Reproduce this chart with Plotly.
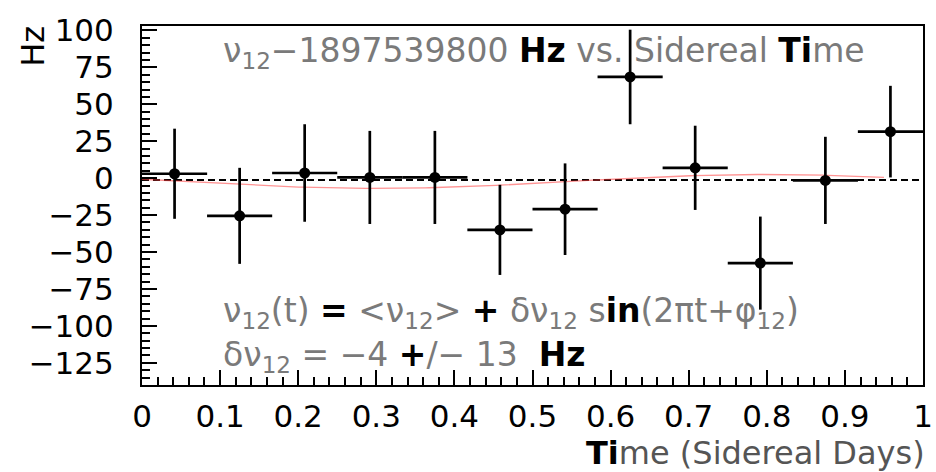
import numpy as np
import plotly.graph_objects as go

# ---- data ----
bin_centers = [0.0417, 0.125, 0.2083, 0.2917, 0.375, 0.4583,
               0.5417, 0.625, 0.7083, 0.7917, 0.875, 0.9583]
bin_half_width = [0.0417] * 12
freq_offset_hz = [3.0, -25.5, 3.5, 0.5, 0.5, -35.0,
                  -21.0, 68.5, 7.0, -57.5, -1.5, 31.5]
freq_err_hz = [30.5, 32.5, 33.0, 31.5, 31.5, 30.5,
               31.0, 32.0, 28.5, 31.5, 29.5, 31.0]

# fit parameters: nu(t) = <nu> + dnu * sin(2 pi t + phi)
fit_mean = -2.2
fit_dnu = -4.7
fit_phi = -0.1 * np.pi
fit_t_range = [0.0, 0.95]
mean_line_hz = -1.3

x_ticks = [0, 0.1, 0.2, 0.3, 0.4, 0.5, 0.6, 0.7, 0.8, 0.9, 1]
x_tick_labels = ["0", "0.1", "0.2", "0.3", "0.4", "0.5", "0.6", "0.7", "0.8", "0.9", "1"]
y_ticks = [-125, -100, -75, -50, -25, 0, 25, 50, 75, 100]
y_tick_labels = ["\u2212125", "\u2212100", "\u221275", "\u221250", "\u221225", "0", "25", "50", "75", "100"]

FONT = "DejaVu Sans"
GRAY = "#7a7a7a"

t_fit = np.linspace(fit_t_range[0], fit_t_range[1], 200)
y_fit = fit_mean + fit_dnu * np.sin(2 * np.pi * t_fit + fit_phi)

fig = go.Figure()

# dashed mean line
fig.add_trace(go.Scatter(
    x=[0, 1], y=[mean_line_hz, mean_line_hz], mode="lines",
    line=dict(color="black", width=2, dash="7px,4px"),
    hoverinfo="skip", showlegend=False))

# fit curve
fig.add_trace(go.Scatter(
    x=t_fit, y=y_fit, mode="lines",
    line=dict(color="rgba(255,60,60,0.55)", width=1.3),
    hoverinfo="skip", showlegend=False))

# data points
fig.add_trace(go.Scatter(
    x=bin_centers, y=freq_offset_hz, mode="markers",
    marker=dict(color="black", size=11, symbol="circle"),
    error_x=dict(type="data", array=bin_half_width, color="black", thickness=2.7, width=0),
    error_y=dict(type="data", array=freq_err_hz, color="black", thickness=2.7, width=0),
    showlegend=False))

def black(s):
    return "<span style='color:black'><b>" + s + "</b></span>"

title_txt = ("\u03bd<sub>12</sub>\u22121897539800 " + black("Hz") +
             " vs. Sidereal " + black("Ti") + "me")
line1 = ("\u03bd<sub>12</sub>(t) " + black("=") + " &lt;\u03bd<sub>12</sub>&gt; " +
         black("+") + " \u03b4\u03bd<sub>12</sub> s" + black("in") +
         "(2\u03c0t+\u03c6<sub>12</sub>)")
line2 = ("\u03b4\u03bd<sub>12</sub> = \u22124 " + black("+") + "/\u2212 13  " + black("Hz"))

annotations = [
    dict(text=title_txt, x=0.101, y=0.925, xref="paper", yref="paper",
         xanchor="left", yanchor="middle", showarrow=False,
         font=dict(family=FONT, size=33, color=GRAY)),
    dict(text=line1, x=0.101, y=0.203, xref="paper", yref="paper",
         xanchor="left", yanchor="middle", showarrow=False,
         font=dict(family=FONT, size=33, color=GRAY)),
    dict(text=line2, x=0.101, y=0.078, xref="paper", yref="paper",
         xanchor="left", yanchor="middle", showarrow=False,
         font=dict(family=FONT, size=33, color=GRAY)),
    dict(text="<b>Ti</b><span style='color:#555'>me (Sidereal Days)</span>",
         x=1.005, y=-0.19, xref="paper", yref="paper",
         xanchor="right", yanchor="middle", showarrow=False,
         font=dict(family=FONT, size=32, color="black")),
    dict(text="Hz", x=-0.140, y=0.944, xref="paper", yref="paper",
         xanchor="center", yanchor="middle", showarrow=False, textangle=-90,
         font=dict(family=FONT, size=32, color="black")),
]

fig.update_layout(
    width=936, height=472,
    margin=dict(l=142, r=3, t=26, b=87),
    paper_bgcolor="white", plot_bgcolor="white",
    annotations=annotations,
    xaxis=dict(range=[0, 1], tickvals=x_ticks, ticktext=x_tick_labels,
               ticks="inside", ticklen=15, tickwidth=2, tickcolor="black",
               minor=dict(dtick=0.02, ticks="inside", ticklen=8, tickwidth=2, tickcolor="black"),
               showline=True, linecolor="black", linewidth=2, mirror=True,
               showgrid=False, zeroline=False, ticklabelstandoff=3,
               ticklabeloverflow="allow",
               tickfont=dict(family=FONT, size=31, color="black")),
    yaxis=dict(range=[-140, 103], tickvals=y_ticks, ticktext=y_tick_labels,
               ticks="inside", ticklen=15, tickwidth=2, tickcolor="black",
               minor=dict(dtick=5, ticks="inside", ticklen=8, tickwidth=2, tickcolor="black"),
               showline=True, linecolor="black", linewidth=2, mirror=True,
               showgrid=False, zeroline=False, ticklabelstandoff=20,
               tickfont=dict(family=FONT, size=31, color="black")),
)

fig.write_html("out.html")
